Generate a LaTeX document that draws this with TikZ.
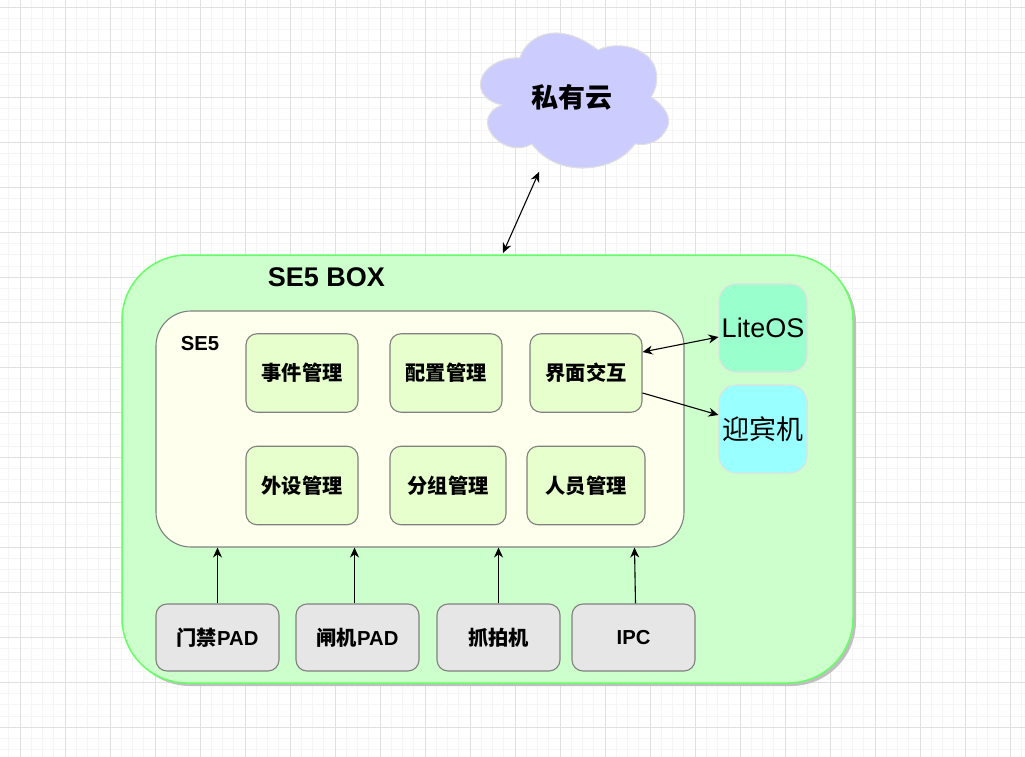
\documentclass[tikz,border=0pt]{standalone}
\usepackage{xcolor}
\usepackage{fontspec}
\setmainfont{Liberation Sans}
\newfontfamily\cjk{Noto Sans CJK SC}
\usetikzlibrary{arrows.meta, positioning, calc, shadows}
\definecolor{gridmajor}{RGB}{224, 224, 224}
\definecolor{gridminor}{RGB}{245, 245, 245}
\definecolor{boxgreen}{RGB}{204, 255, 204}
\definecolor{boxedge}{RGB}{102, 255, 102}
\definecolor{cloudblue}{RGB}{204, 204, 255}
\definecolor{paleyellow}{RGB}{255, 255, 238}
\definecolor{modgreen}{RGB}{230, 255, 204}
\definecolor{devgray}{RGB}{230, 230, 230}
\definecolor{edgegray}{RGB}{128, 128, 128}
\definecolor{softedge}{RGB}{224, 224, 224}
\definecolor{litegreen}{RGB}{153, 255, 204}
\definecolor{guestcyan}{RGB}{153, 255, 255}
\tikzstyle{module} = [rectangle, rounded corners=11pt, inner sep=0pt, line width=1.1pt, minimum height=78.5pt, text centered, draw=edgegray, fill=modgreen, font=\fontsize{20.25}{24}\selectfont\bfseries]
\tikzstyle{device} = [rectangle, rounded corners=11pt, inner sep=0pt, line width=1.1pt, minimum width=123pt, minimum height=67pt, text centered, draw=edgegray, fill=devgray, font=\fontsize{20.25}{24}\selectfont\bfseries]
\tikzstyle{side} = [rectangle, rounded corners=17pt, inner sep=0pt, line width=1.1pt, minimum width=88pt, minimum height=88pt, text centered, draw=softedge, font=\fontsize{27}{32}\selectfont]
\tikzstyle{arrow} = [line width=1.1pt,-{Stealth[length=10pt,width=9pt]}]
\tikzstyle{dbarrow} = [line width=1.1pt,{Stealth[length=10pt,width=9pt]}-{Stealth[length=10pt,width=9pt]}]

\begin{document}
\begin{tikzpicture}[x=1pt, y=-1pt]
    \useasboundingbox (0, 0) rectangle (1025, 757);
    \fill[white] (0, 0) rectangle (1025, 757);

    % Grid
    \foreach \i in {-1,...,91} {
        \draw[gridminor, line width=1pt] ({20+11.25*\i}, 0) -- ({20+11.25*\i}, 757);
    }
    \foreach \i in {0,...,67} {
        \draw[gridminor, line width=1pt] (0, {7.25+11.25*\i}) -- (1025, {7.25+11.25*\i});
    }
    \foreach \i in {0,...,22} {
        \draw[gridmajor, line width=1pt] ({20+45*\i}, 0) -- ({20+45*\i}, 757);
    }
    \foreach \i in {0,...,16} {
        \draw[gridmajor, line width=1pt] (0, {7.25+45*\i}) -- (1025, {7.25+45*\i});
    }

    % Cloud
    \draw[softedge, fill=cloudblue, line width=1.1pt]
        (520, 58) .. controls (525, 42) and (540, 33) .. (555, 33)
        .. controls (572, 33) and (586, 41) .. (598, 50)
        .. controls (610, 44) and (630, 44) .. (643, 53)
        .. controls (656, 60) and (662, 80) .. (651, 97)
        .. controls (665, 106) and (672, 118) .. (667, 128)
        .. controls (660, 142) and (648, 146) .. (635, 144)
        .. controls (622, 162) and (600, 168) .. (582, 168)
        .. controls (560, 168) and (542, 158) .. (532, 144)
        .. controls (520, 151) and (505, 148) .. (495, 138)
        .. controls (484, 127) and (484, 112) .. (502, 105)
        .. controls (487, 102) and (478, 92) .. (481, 80)
        .. controls (486, 64) and (505, 57) .. (520, 58) -- cycle;
    \node[font=\fontsize{27}{32}\selectfont\bfseries] (cloud) at (572, 97) {\cjk 私有云};
    \coordinate (cloudend) at (539, 172);

    % SE5 BOX
    \node[rectangle, rounded corners=65pt, minimum width=731pt, minimum height=428pt, inner sep=0pt, draw=boxedge, fill=boxgreen, line width=1.5pt,
        drop shadow={shadow xshift=3pt, shadow yshift=-3pt, fill=black!25, opacity=1}] (sebox) at (487.5, 469) {};
    \node[font=\fontsize{27}{32}\selectfont\bfseries] (seboxlabel) at (326.5, 277) {SE5 BOX};
    \coordinate (boxend) at (503, 253);
    \draw[dbarrow] (boxend) -- (cloudend);

    % SE5
    \node[rectangle, rounded corners=35pt, minimum width=528pt, minimum height=236pt, inner sep=0pt, line width=1.1pt, draw=edgegray, fill=paleyellow] (se5) at (420, 429) {};
    \node[font=\fontsize{20.25}{24}\selectfont\bfseries] (se5label) at (200, 344) {SE5};

    % Modules
    \node[module, minimum width=112pt] (event) at (302, 373) {\cjk 事件管理};
    \node[module, minimum width=112pt] (config) at (446, 373) {\cjk 配置管理};
    \node[module, minimum width=112pt] (ui) at (586, 373) {\cjk 界面交互};
    \node[module, minimum width=112pt] (periph) at (302, 485.5) {\cjk 外设管理};
    \node[module, minimum width=116pt] (group) at (448, 485.5) {\cjk 分组管理};
    \node[module, minimum width=118pt] (staff) at (586, 485.5) {\cjk 人员管理};

    % Side boxes
    \node[side, fill=litegreen] (liteos) at (763, 328) {LiteOS};
    \node[side, fill=guestcyan] (guest) at (763, 429) {\cjk 迎宾机};
    \draw[dbarrow] ([yshift=21pt]ui.east) -- ([yshift=-9pt]liteos.west);
    \draw[arrow] ([yshift=-20pt]ui.east) -- ([yshift=14pt]guest.west);

    % Devices
    \node[device] (door) at (217.5, 637.5) {{\cjk 门禁}PAD};
    \node[device] (gate) at (357.5, 637.5) {{\cjk 闸机}PAD};
    \node[device] (snap) at (498.5, 637.5) {\cjk 抓拍机};
    \node[device] (ipc) at (633.5, 637.5) {IPC};
    \draw[arrow] (door.north) -- (door.north |- se5.south);
    \draw[arrow] ([xshift=-3pt]gate.north) -- ([xshift=-3pt]gate.north |- se5.south);
    \draw[arrow] (snap.north) -- (snap.north |- se5.south);
    \draw[arrow] ([xshift=2pt]ipc.north) -- ([xshift=1pt]ipc.north |- se5.south);
\end{tikzpicture}
\end{document}
